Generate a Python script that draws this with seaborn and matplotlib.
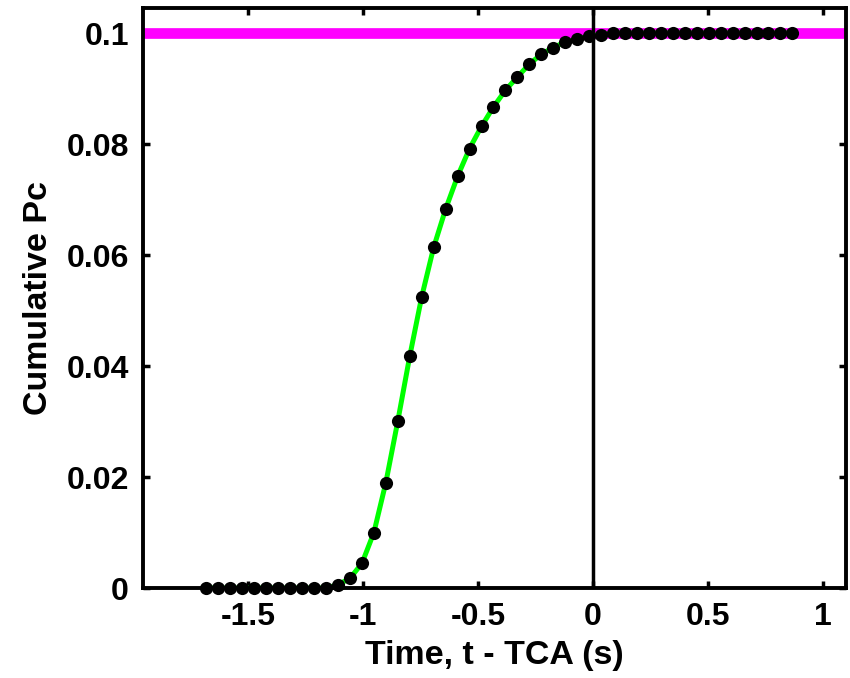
import matplotlib
matplotlib.use("Agg")
import matplotlib.pyplot as plt
import seaborn as sns
import pandas as pd

# Time relative to TCA (s)
time_s = [-1.680, -1.628, -1.576, -1.524, -1.472, -1.420, -1.368, -1.316, -1.264, -1.212,
          -1.160, -1.108, -1.056, -1.004, -0.952, -0.900, -0.848, -0.796, -0.744, -0.692,
          -0.640, -0.588, -0.536, -0.484, -0.432, -0.380, -0.328, -0.276, -0.224, -0.172,
          -0.120, -0.068, -0.016, 0.036, 0.088, 0.140, 0.192, 0.244, 0.296, 0.348,
          0.400, 0.452, 0.504, 0.556, 0.608, 0.660, 0.712, 0.764, 0.816, 0.868]
# Cumulative probability of collision
cum_pc = [0.0, 0.0, 0.0, 0.0, 0.0, 0.0, 0.0, 0.0, 0.0, 0.0,
          0.0, 0.0006, 0.00175, 0.00445, 0.0100, 0.0190, 0.0301, 0.0418, 0.0525, 0.0614,
          0.0683, 0.0742, 0.0792, 0.0832, 0.0867, 0.0897, 0.0921, 0.0944, 0.0962, 0.0974,
          0.0984, 0.0989, 0.0995, 0.0997, 0.1, 0.1, 0.1, 0.1, 0.1, 0.1,
          0.1, 0.1, 0.1, 0.1, 0.1, 0.1, 0.1, 0.1, 0.1, 0.1]
total_pc = 0.1

x_ticks = [-1.5, -1.0, -0.5, 0.0, 0.5, 1.0]
x_tick_labels = ["-1.5", "-1", "-0.5", "0", "0.5", "1"]
y_ticks = [0.0, 0.02, 0.04, 0.06, 0.08, 0.1]
y_tick_labels = ["0", "0.02", "0.04", "0.06", "0.08", "0.1"]

df = pd.DataFrame({"t": time_s, "pc": cum_pc})

sns.set_style("ticks")
plt.rcParams["font.family"] = ["Liberation Sans", "DejaVu Sans"]
plt.rcParams["font.weight"] = "bold"
plt.rcParams["text.color"] = "black"
plt.rcParams["axes.labelcolor"] = "black"

fig = plt.figure(figsize=(8.5, 6.78), dpi=100)
ax = fig.add_axes([0.168, 0.1327, 0.827, 0.8553])

ax.axhline(total_pc, color="#FF00FF", lw=7.7, zorder=1)
ax.axvline(0.0, color="black", lw=2.5, zorder=2)
sns.lineplot(data=df, x="t", y="pc", ax=ax, color="#00FF00", lw=3.6, zorder=3)
sns.scatterplot(data=df, x="t", y="pc", ax=ax, color="black", s=90,
                edgecolor="black", linewidth=0, zorder=4, clip_on=False)

ax.set_xlim(-1.957, 1.10)
ax.set_ylim(0, 0.1045)
ax.set_xticks(x_ticks)
ax.set_xticklabels(x_tick_labels, fontweight="bold")
ax.set_yticks(y_ticks)
ax.set_yticklabels(y_tick_labels, fontweight="bold")
ax.tick_params(direction="in", length=5, width=2.5, top=True, right=True,
               labelsize=23, colors="black", pad=10)
for sp in ax.spines.values():
    sp.set_visible(True)
    sp.set_linewidth(2.8)
    sp.set_color("black")
    sp.set_zorder(5)

ax.set_xlabel("Time, t - TCA (s)", fontsize=24.5, fontweight="bold", labelpad=6,
              color="black")
ax.set_ylabel("Cumulative Pc", fontsize=24.5, fontweight="bold", labelpad=9,
              color="black")

fig.savefig("out.png", dpi=100, facecolor="white")
